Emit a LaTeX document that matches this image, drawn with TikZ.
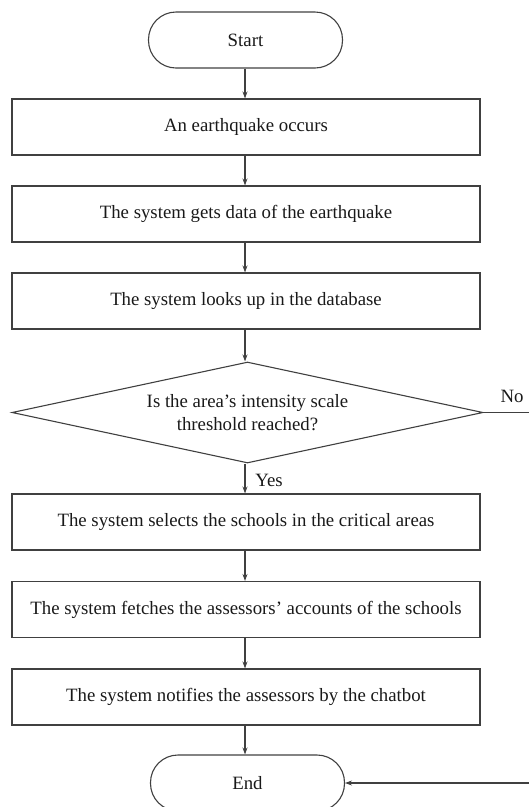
\documentclass[tikz,border=0pt]{standalone}
\usepackage{fontspec}
\setmainfont{Liberation Serif}
\usetikzlibrary{arrows.meta,shapes.geometric}
\begin{document}
\begin{tikzpicture}[x=1pt,y=-1pt,
  every node/.style={font=\fontsize{18.8}{23}\selectfont, text=black!90},
  line/.style={draw=black!75, line width=1.1pt},
  term/.style={line, rounded corners=27.5pt, minimum width=194pt, minimum height=56pt, inner sep=0pt},
  proc/.style={line, minimum width=468pt, minimum height=56pt, inner sep=0pt},
  deci/.style={line, diamond, aspect=4.66, minimum width=471pt, minimum height=101pt, inner sep=0pt, align=center},
  arr/.style={line, -{Stealth[length=7pt,width=5pt]}},
  lbl/.style={inner sep=0pt}]
\useasboundingbox (0,0) rectangle (529,807);
\node[term] (start) at (245.5,40) {Start};
\node[proc] (b1) at (246,127) {An earthquake occurs};
\node[proc] (b2) at (246,214) {The system gets data of the earthquake};
\node[proc] (b3) at (246,301) {The system looks up in the database};
\node[deci] (d) at (247.5,412.5) {Is the area’s intensity scale\\threshold reached?};
\node[proc] (b5) at (246,522) {The system selects the schools in the critical areas};
\node[proc] (b6) at (246,609.5) {The system fetches the assessors’ accounts of the schools};
\node[proc] (b7) at (246,697) {The system notifies the assessors by the chatbot};
\node[term] (end) at (247.5,783) {End};
\coordinate (c1) at (540,412.5);
\coordinate (c2) at (540,783);
\node[lbl] (yes) at (269,480) {Yes};
\node[lbl] (no) at (512,396) {No};
\draw[arr] (start.south -| 245,0) -- (b1.north -| 245,0);
\draw[arr] (b1.south -| 245,0) -- (b2.north -| 245,0);
\draw[arr] (b2.south -| 245,0) -- (b3.north -| 245,0);
\draw[arr] (b3.south -| 245,0) -- (d.north -| 245,0);
\draw[arr] (d.south -| 245,0) -- (b5.north -| 245,0);
\draw[arr] (b5.south -| 245,0) -- (b6.north -| 245,0);
\draw[arr] (b6.south -| 245,0) -- (b7.north -| 245,0);
\draw[arr] (b7.south -| 245,0) -- (end.north -| 245,0);
\draw[arr] (d.east) -- (c1) -- (c2) -- (end.east);
\end{tikzpicture}
\end{document}
